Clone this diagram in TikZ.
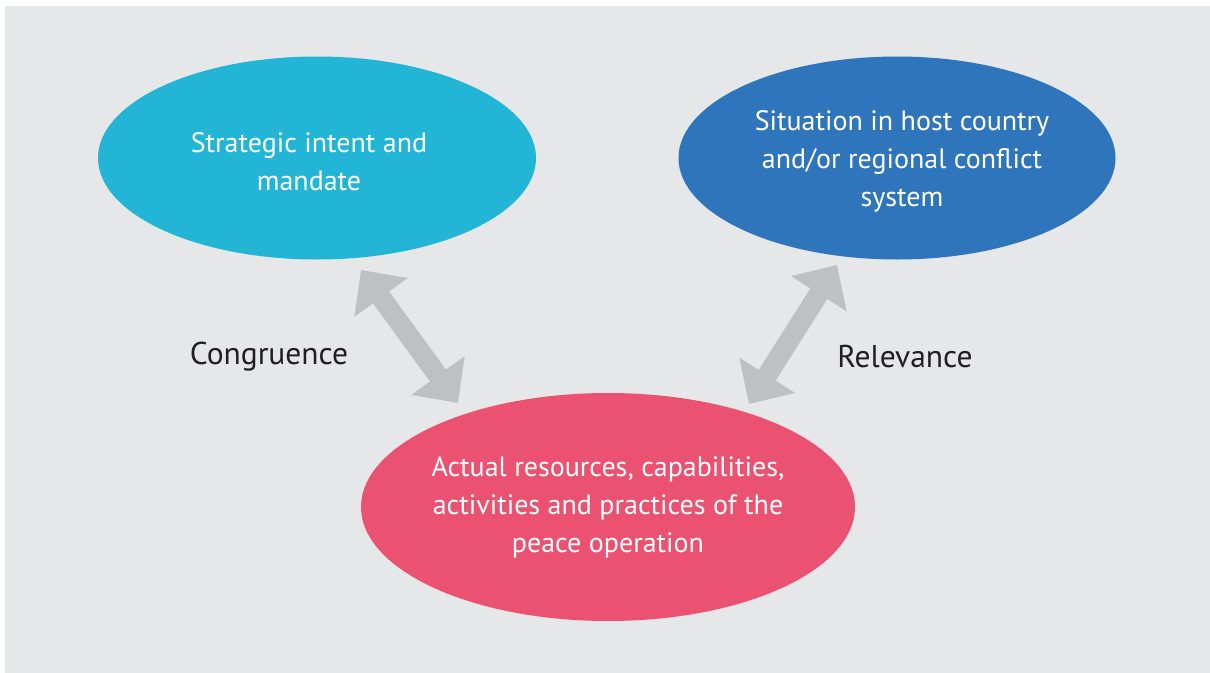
\documentclass[tikz,border=0pt]{standalone}
\usepackage{fontspec}
\setmainfont{PT Sans}
\usetikzlibrary{shapes.geometric,arrows.meta}
\definecolor{bggrey}{HTML}{E6E7E8}
\definecolor{cyanE}{HTML}{23B5D6}
\definecolor{blueE}{HTML}{2F75BC}
\definecolor{pinkE}{HTML}{EB5271}
\definecolor{arrowgrey}{HTML}{BFC0C3}
\definecolor{labeltext}{HTML}{231F20}
\tikzset{
  blob/.style={ellipse, inner sep=0pt, draw=none},
  blobtext/.style={text=white, align=center, font=\fontsize{28}{38}\selectfont},
  lbl/.style={text=labeltext, font=\fontsize{31.5}{36}\selectfont},
  bigarrow/.style={draw=arrowgrey, line width=20pt,
    arrows={Triangle[width=64pt,length=34pt]-Triangle[width=64pt,length=34pt]}},
}
\begin{document}
\begin{tikzpicture}[x=1pt,y=-1pt]
\useasboundingbox (0,0) rectangle (1210,672);
\fill[bggrey] (5,6) rectangle (1220,685);
\node[blob, fill=cyanE, minimum width=438pt, minimum height=203pt] (strat) at (317,158) {};
\node[blob, fill=blueE, minimum width=437pt, minimum height=203pt] (sit) at (897,158) {};
\node[blob, fill=pinkE, minimum width=494pt, minimum height=228pt] (act) at (608,507) {};
\node[blobtext] (stratT) at (309,162) {Strategic intent and\\mandate};
\node[blobtext] (sitT) at (902,161) {Situation in host country\\and/or regional conflict\\system};
\node[blobtext] (actT) at (608,507) {Actual resources, capabilities,\\activities and practices of the\\peace operation};
\coordinate (a1) at (361,270);
\coordinate (a2) at (458,403);
\coordinate (b1) at (837,265);
\coordinate (b2) at (749,404);
\draw[bigarrow] (a1) -- (a2);
\draw[bigarrow] (b1) -- (b2);
\node[lbl] (cong) at (269,357) {Congruence};
\node[lbl] (rel) at (905,357) {Relevance};
\end{tikzpicture}
\end{document}
